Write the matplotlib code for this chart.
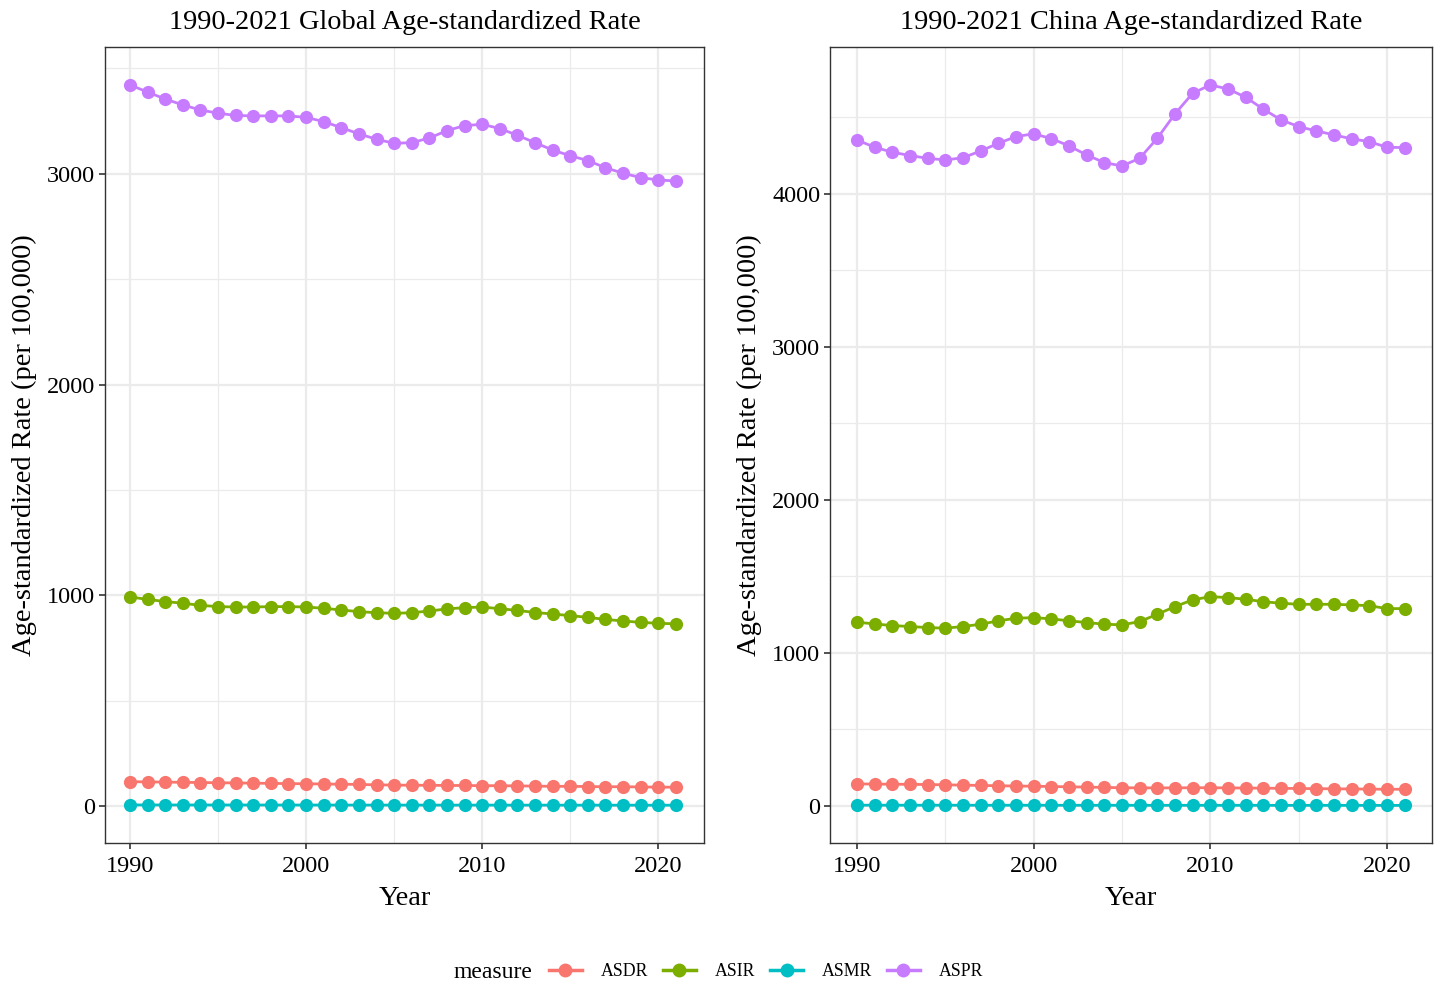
import matplotlib.pyplot as plt
from matplotlib.lines import Line2D

years = list(range(1990, 2022))

# Global age-standardized rates (per 100,000)
glob_aspr = [3422, 3388, 3355, 3327, 3303, 3288, 3277, 3275, 3275, 3275, 3268, 3248,
             3219, 3190, 3164, 3145, 3148, 3170, 3205, 3229, 3235, 3215, 3183, 3148,
             3113, 3086, 3063, 3029, 3003, 2982, 2971, 2966]
glob_asir = [992, 980, 970, 962, 952, 946, 944, 944, 946, 946, 944, 938,
             930, 922, 917, 914, 917, 925, 935, 941, 944, 936, 928, 918,
             911, 903, 895, 885, 878, 871, 867, 864]
glob_asdr = [115, 114, 113, 112, 111, 110, 109, 108, 107, 106, 105, 104,
             103, 102, 100, 99, 98, 98, 97, 97, 96, 96, 95, 94,
             93, 93, 92, 91, 91, 90, 89, 89]
glob_asmr = [4.6, 4.6, 4.5, 4.5, 4.5, 4.4, 4.4, 4.3, 4.3, 4.2, 4.2, 4.1,
             4.1, 4.0, 4.0, 3.9, 3.9, 3.9, 3.8, 3.8, 3.8, 3.7, 3.7, 3.7,
             3.6, 3.6, 3.6, 3.5, 3.5, 3.5, 3.4, 3.4]

# China age-standardized rates (per 100,000)
china_aspr = [4350, 4302, 4270, 4248, 4230, 4219, 4234, 4278, 4328, 4372, 4390, 4359,
              4311, 4252, 4202, 4180, 4230, 4361, 4520, 4655, 4709, 4683, 4629, 4551,
              4481, 4437, 4409, 4383, 4357, 4339, 4302, 4300]
china_asir = [1200, 1189, 1178, 1172, 1165, 1161, 1172, 1187, 1209, 1226, 1230, 1222,
              1209, 1198, 1187, 1183, 1204, 1252, 1302, 1346, 1367, 1361, 1350, 1334,
              1324, 1317, 1317, 1317, 1313, 1308, 1289, 1289]
china_asdr = [144, 143, 142, 141, 140, 138, 136, 134, 132, 130, 129, 127,
              125, 123, 121, 119, 118, 118, 118, 119, 119, 118, 117, 116,
              115, 114, 113, 112, 111, 110, 109, 109]
china_asmr = [5.0, 5.0, 4.9, 4.9, 4.8, 4.8, 4.7, 4.7, 4.6, 4.6, 4.5, 4.5,
              4.4, 4.4, 4.3, 4.3, 4.2, 4.2, 4.2, 4.2, 4.2, 4.1, 4.1, 4.0,
              4.0, 3.9, 3.9, 3.8, 3.8, 3.7, 3.7, 3.6]

measures = ["ASDR", "ASIR", "ASMR", "ASPR"]
colors = ["#F8766D", "#7CAE00", "#00BFC4", "#C77CFF"]

plt.rcParams["font.family"] = ["Liberation Serif", "DejaVu Serif"]

W, H = 1441, 989
fig = plt.figure(figsize=(W / 100, H / 100), dpi=100)


def panel(rect, series, title, ylim, yticks, yminor, xlim):
    ax = fig.add_axes(rect)
    for vals, col in zip(series, colors):
        ax.plot(years, vals, color=col, lw=2, marker="o", ms=9.5,
                markeredgewidth=0, zorder=3)
    ax.set_xlim(*xlim)
    ax.set_ylim(*ylim)
    ax.set_xticks([1990, 2000, 2010, 2020])
    ax.set_xticks([1995, 2005, 2015], minor=True)
    ax.set_yticks(yticks)
    ax.set_yticks(yminor, minor=True)
    ax.grid(True, which="major", color="#EBEBEB", lw=1.6, zorder=0)
    ax.grid(True, which="minor", color="#EBEBEB", lw=0.9, zorder=0)
    ax.tick_params(which="minor", length=0)
    ax.tick_params(which="major", length=4, width=1.2, color="#333333",
                   labelsize=17.5, labelcolor="black", pad=3)
    ax.tick_params(axis="x", which="major", pad=5)
    for s in ax.spines.values():
        s.set_color("#333333")
        s.set_linewidth(1)
    ax.set_title(title, fontsize=20.4, pad=13)
    ax.set_xlabel("Year", fontsize=20.5, labelpad=7)
    ax.set_ylabel("Age-standardized Rate (per 100,000)", fontsize=20.5, labelpad=7)
    ax.set_axisbelow(True)
    return ax


panel([105 / W, 146 / H, 599 / W, 796 / H],
      [glob_asdr, glob_asir, glob_asmr, glob_aspr],
      "1990-2021 Global Age-standardized Rate",
      (-176, 3602), [0, 1000, 2000, 3000], [500, 1500, 2500, 3500],
      (1988.58, 2022.6))

panel([830 / W, 146 / H, 602 / W, 796 / H],
      [china_asdr, china_asir, china_asmr, china_aspr],
      "1990-2021 China Age-standardized Rate",
      (-242, 4957), [0, 1000, 2000, 3000, 4000], [500, 1500, 2500, 3500, 4500],
      (1988.47, 2022.55))

handles = [Line2D([], [], color=c, lw=2.5, marker="o", ms=10, markeredgewidth=0)
           for c in colors]
fig.text(453 / W, 1 - 973 / H, "measure", fontsize=17, va="center", ha="left")
fig.legend(handles, measures, loc="center left", ncol=4,
           bbox_to_anchor=(549 / W, 1 - 972 / H), frameon=False,
           fontsize=12.8, handlelength=1.85, columnspacing=0.85, handletextpad=1.05,
           borderpad=0, borderaxespad=0)

fig.savefig("out.png", dpi=100)
